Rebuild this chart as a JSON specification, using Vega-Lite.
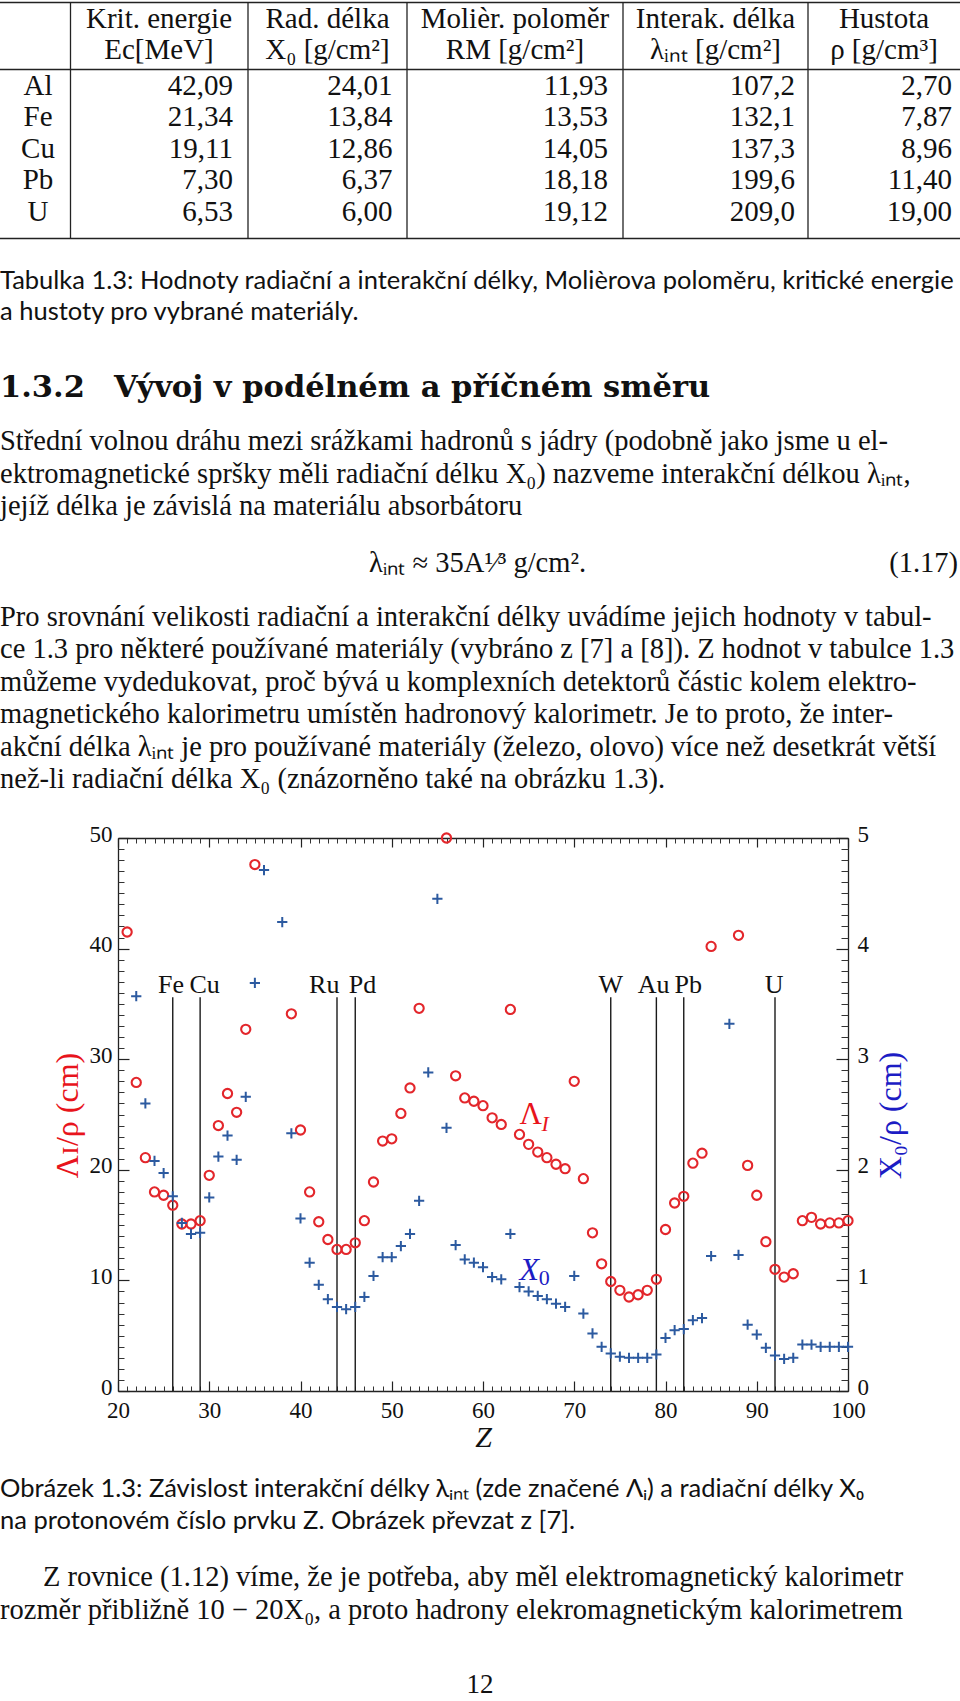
{
  "$schema": "https://vega.github.io/schema/vega-lite/v6.json",
  "width": 960,
  "height": 1701,
  "padding": 0,
  "autosize": {"type": "none"},
  "background": "white",
  "config": {"view": {"stroke": null}, "axis": {"grid": false, "labelFont": "Liberation Serif", "titleFont": "Liberation Serif"}},
  "resolve": {"scale": {"x": "independent", "y": "independent"}},
  "layer": [
    {
      "data": {"values": [{"h": 0}, {"h": 1}, {"h": 2}]},
      "mark": {"type": "rule", "color": "#222222", "strokeWidth": 1.3},
      "encoding": {
        "x": {"datum": 0, "type": "quantitative", "scale": {"domain": [0, 1], "range": [0, 960]}, "axis": null},
        "x2": {"datum": 1},
        "y": {"field": "h", "type": "quantitative", "scale": {"domain": [0, 1, 2], "range": [2.5, 69.5, 238.5]}, "axis": null}
      }
    },
    {
      "data": {"values": [{"b": 1}, {"b": 2}, {"b": 3}, {"b": 4}, {"b": 5}]},
      "mark": {"type": "rule", "color": "#222222", "strokeWidth": 1.3},
      "encoding": {
        "x": {"field": "b", "type": "quantitative", "scale": {"domain": [1, 2, 3, 4, 5], "range": [70.5, 248, 407, 623, 808]}, "axis": null},
        "y": {"datum": 0, "type": "quantitative", "scale": {"domain": [0, 1], "range": [2.5, 238.5]}, "axis": null},
        "y2": {"datum": 1}
      }
    },
    {
      "data": {"values": [
        {"r": 1, "c": 1, "t": "Krit. energie"}, {"r": 1, "c": 2, "t": "Rad. délka"}, {"r": 1, "c": 3, "t": "Molièr. poloměr"}, {"r": 1, "c": 4, "t": "Interak. délka"}, {"r": 1, "c": 5, "t": "Hustota"},
        {"r": 2, "c": 1, "t": "Ec[MeV]"}, {"r": 2, "c": 2, "t": "X₀ [g/cm²]"}, {"r": 2, "c": 3, "t": "RM [g/cm²]"}, {"r": 2, "c": 4, "t": "λᵢₙₜ [g/cm²]"}, {"r": 2, "c": 5, "t": "ρ [g/cm³]"}
      ]},
      "mark": {"type": "text", "font": "Liberation Serif", "fontSize": 29, "align": "center", "baseline": "middle", "color": "#111111"},
      "encoding": {
        "x": {"field": "c", "type": "quantitative", "scale": {"domain": [1, 2, 3, 4, 5], "range": [159, 327.5, 515, 715.5, 884]}, "axis": null},
        "y": {"field": "r", "type": "quantitative", "scale": {"domain": [1, 2], "range": [19, 49.5]}, "axis": null},
        "text": {"field": "t"}
      }
    },
    {
      "data": {"values": [{"r": 1, "t": "Al"}, {"r": 2, "t": "Fe"}, {"r": 3, "t": "Cu"}, {"r": 4, "t": "Pb"}, {"r": 5, "t": "U"}]},
      "mark": {"type": "text", "font": "Liberation Serif", "fontSize": 29, "align": "center", "baseline": "middle", "color": "#111111"},
      "encoding": {
        "x": {"datum": 0, "type": "quantitative", "scale": {"domain": [0, 1], "range": [38, 39]}, "axis": null},
        "y": {"field": "r", "type": "quantitative", "scale": {"domain": [1, 5], "range": [85.5, 212]}, "axis": null},
        "text": {"field": "t"}
      }
    },
    {
      "data": {"values": [
        {"r": 1, "c": 1, "t": "42,09"}, {"r": 1, "c": 2, "t": "24,01"}, {"r": 1, "c": 3, "t": "11,93"}, {"r": 1, "c": 4, "t": "107,2"}, {"r": 1, "c": 5, "t": "2,70"},
        {"r": 2, "c": 1, "t": "21,34"}, {"r": 2, "c": 2, "t": "13,84"}, {"r": 2, "c": 3, "t": "13,53"}, {"r": 2, "c": 4, "t": "132,1"}, {"r": 2, "c": 5, "t": "7,87"},
        {"r": 3, "c": 1, "t": "19,11"}, {"r": 3, "c": 2, "t": "12,86"}, {"r": 3, "c": 3, "t": "14,05"}, {"r": 3, "c": 4, "t": "137,3"}, {"r": 3, "c": 5, "t": "8,96"},
        {"r": 4, "c": 1, "t": "7,30"}, {"r": 4, "c": 2, "t": "6,37"}, {"r": 4, "c": 3, "t": "18,18"}, {"r": 4, "c": 4, "t": "199,6"}, {"r": 4, "c": 5, "t": "11,40"},
        {"r": 5, "c": 1, "t": "6,53"}, {"r": 5, "c": 2, "t": "6,00"}, {"r": 5, "c": 3, "t": "19,12"}, {"r": 5, "c": 4, "t": "209,0"}, {"r": 5, "c": 5, "t": "19,00"}
      ]},
      "mark": {"type": "text", "font": "Liberation Serif", "fontSize": 29, "align": "right", "baseline": "middle", "color": "#111111"},
      "encoding": {
        "x": {"field": "c", "type": "quantitative", "scale": {"domain": [1, 2, 3, 4, 5], "range": [233, 392.5, 608, 795, 952]}, "axis": null},
        "y": {"field": "r", "type": "quantitative", "scale": {"domain": [1, 5], "range": [85.5, 212]}, "axis": null},
        "text": {"field": "t"}
      }
    },
    {
      "data": {"values": [
        {"ln": 1, "t": "Tabulka 1.3: Hodnoty radiační a interakční délky, Molièrova poloměru, kritické energie"},
        {"ln": 2, "t": "a hustoty pro vybrané materiály."},
        {"ln": 3, "t": "Obrázek 1.3: Závislost interakční délky λᵢₙₜ (zde značené Λᵢ) a radiační délky X₀"},
        {"ln": 4, "t": "na protonovém číslo prvku Z. Obrázek převzat z [7]."}
      ]},
      "mark": {"type": "text", "font": "Lato", "fontSize": 25.5, "align": "left", "baseline": "middle", "color": "#111111"},
      "encoding": {
        "x": {"datum": 0, "type": "quantitative", "scale": {"domain": [0, 1], "range": [0, 960]}, "axis": null},
        "y": {"field": "ln", "type": "quantitative", "scale": {"domain": [1, 2, 3, 4], "range": [280.5, 312, 1489, 1521]}, "axis": null},
        "text": {"field": "t"}
      }
    },
    {
      "data": {"values": [{"p": 0, "t": "1.3.2"}, {"p": 1, "t": "Vývoj v podélném a příčném směru"}]},
      "mark": {"type": "text", "font": "DejaVu Serif", "fontWeight": "bold", "fontSize": 30.5, "align": "left", "baseline": "middle", "color": "#111111"},
      "encoding": {
        "x": {"field": "p", "type": "quantitative", "scale": {"domain": [0, 1], "range": [0, 114]}, "axis": null},
        "y": {"datum": 0, "type": "quantitative", "scale": {"domain": [0, 1], "range": [388, 389]}, "axis": null},
        "text": {"field": "t"}
      }
    },
    {
      "data": {"values": [
        {"ln": 1, "ind": 0, "t": "Střední volnou dráhu mezi srážkami hadronů s jádry (podobně jako jsme u el-"},
        {"ln": 2, "ind": 0, "t": "ektromagnetické spršky měli radiační délku X₀) nazveme interakční délkou λᵢₙₜ,"},
        {"ln": 3, "ind": 0, "t": "jejíž délka je závislá na materiálu absorbátoru"},
        {"ln": 4, "ind": 0, "t": "Pro srovnání velikosti radiační a interakční délky uvádíme jejich hodnoty v tabul-"},
        {"ln": 5, "ind": 0, "t": "ce 1.3 pro některé používané materiály (vybráno z [7] a [8]). Z hodnot v tabulce 1.3"},
        {"ln": 6, "ind": 0, "t": "můžeme vydedukovat, proč bývá u komplexních detektorů částic kolem elektro-"},
        {"ln": 7, "ind": 0, "t": "magnetického kalorimetru umístěn hadronový kalorimetr. Je to proto, že inter-"},
        {"ln": 8, "ind": 0, "t": "akční délka λᵢₙₜ je pro používané materiály (železo, olovo) více než desetkrát větší"},
        {"ln": 9, "ind": 0, "t": "než-li radiační délka X₀ (znázorněno také na obrázku 1.3)."},
        {"ln": 10, "ind": 1, "t": "Z rovnice (1.12) víme, že je potřeba, aby měl elektromagnetický kalorimetr"},
        {"ln": 11, "ind": 0, "t": "rozměr přibližně 10 − 20X₀, a proto hadrony elekromagnetickým kalorimetrem"}
      ]},
      "mark": {"type": "text", "font": "Liberation Serif", "fontSize": 28.5, "align": "left", "baseline": "middle", "color": "#111111"},
      "encoding": {
        "x": {"field": "ind", "type": "quantitative", "scale": {"domain": [0, 1], "range": [0, 43]}, "axis": null},
        "y": {"field": "ln", "type": "quantitative", "scale": {"domain": [1, 3, 4, 9, 10, 11], "range": [441, 506, 617, 779, 1577, 1610]}, "axis": null},
        "text": {"field": "t"}
      }
    },
    {
      "data": {"values": [{"p": 0, "t": "λᵢₙₜ ≈ 35A¹⁄³ g/cm²."}]},
      "mark": {"type": "text", "font": "Liberation Serif", "fontSize": 28.5, "align": "left", "baseline": "middle", "color": "#111111"},
      "encoding": {
        "x": {"field": "p", "type": "quantitative", "scale": {"domain": [0, 1], "range": [369, 370]}, "axis": null},
        "y": {"datum": 0, "type": "quantitative", "scale": {"domain": [0, 1], "range": [563, 564]}, "axis": null},
        "text": {"field": "t"}
      }
    },
    {
      "data": {"values": [{"p": 1, "t": "(1.17)"}]},
      "mark": {"type": "text", "font": "Liberation Serif", "fontSize": 28.5, "align": "right", "baseline": "middle", "color": "#111111"},
      "encoding": {
        "x": {"field": "p", "type": "quantitative", "scale": {"domain": [0, 1], "range": [0, 958]}, "axis": null},
        "y": {"datum": 0, "type": "quantitative", "scale": {"domain": [0, 1], "range": [563, 564]}, "axis": null},
        "text": {"field": "t"}
      }
    },
    {
      "data": {"values": [{"p": 0.5, "t": "12"}]},
      "mark": {"type": "text", "font": "Liberation Serif", "fontSize": 27, "align": "center", "baseline": "middle", "color": "#111111"},
      "encoding": {
        "x": {"field": "p", "type": "quantitative", "scale": {"domain": [0, 1], "range": [0, 960]}, "axis": null},
        "y": {"datum": 0, "type": "quantitative", "scale": {"domain": [0, 1], "range": [1685, 1686]}, "axis": null},
        "text": {"field": "t"}
      }
    },
    {
      "layer": [
        {
          "data": {"values": [{"el": "Fe", "Z": 26}, {"el": "Cu", "Z": 29}, {"el": "Ru", "Z": 44}, {"el": "Pd", "Z": 46}, {"el": "W", "Z": 74}, {"el": "Au", "Z": 79}, {"el": "Pb", "Z": 82}, {"el": "U", "Z": 92}]},
          "mark": {"type": "rule", "color": "#1a1a1a", "strokeWidth": 1.4},
          "encoding": {
            "x": {"field": "Z", "type": "quantitative", "scale": {"domain": [20, 100], "range": [118, 848], "nice": false, "zero": false}, "axis": null},
            "y": {"datum": 0, "type": "quantitative", "scale": {"domain": [0, 50], "range": [1391, 838], "nice": false, "zero": false}, "axis": null},
            "y2": {"datum": 35.6}
          }
        },
        {
          "data": {"values": [{"el": "Fe", "lz": 25.8}, {"el": "Cu", "lz": 29.5}, {"el": "Ru", "lz": 42.6}, {"el": "Pd", "lz": 46.8}, {"el": "W", "lz": 74.0}, {"el": "Au", "lz": 78.7}, {"el": "Pb", "lz": 82.5}, {"el": "U", "lz": 91.9}]},
          "mark": {"type": "text", "font": "Liberation Serif", "fontSize": 26, "align": "center", "baseline": "alphabetic", "color": "#111111"},
          "encoding": {
            "x": {"field": "lz", "type": "quantitative", "scale": {"domain": [20, 100], "range": [118, 848], "nice": false, "zero": false}, "axis": null},
            "y": {"datum": 36.0, "type": "quantitative", "scale": {"domain": [0, 50], "range": [1391, 838], "nice": false, "zero": false}, "axis": null},
            "text": {"field": "el"}
          }
        },
        {
          "data": {"values": [
            {"Z": 21, "L": 41.5}, {"Z": 22, "L": 27.9}, {"Z": 23, "L": 21.1}, {"Z": 24, "L": 18.0}, {"Z": 25, "L": 17.7}, {"Z": 26, "L": 16.8}, {"Z": 27, "L": 15.1}, {"Z": 28, "L": 15.1}, {"Z": 29, "L": 15.4}, {"Z": 30, "L": 19.5},
            {"Z": 31, "L": 24.0}, {"Z": 32, "L": 26.9}, {"Z": 33, "L": 25.2}, {"Z": 34, "L": 32.7}, {"Z": 35, "L": 47.6}, {"Z": 39, "L": 34.1}, {"Z": 40, "L": 23.6},
            {"Z": 41, "L": 18.0}, {"Z": 42, "L": 15.3}, {"Z": 43, "L": 13.7}, {"Z": 44, "L": 12.8}, {"Z": 45, "L": 12.8}, {"Z": 46, "L": 13.4}, {"Z": 47, "L": 15.4}, {"Z": 48, "L": 18.9}, {"Z": 49, "L": 22.6}, {"Z": 50, "L": 22.8},
            {"Z": 51, "L": 25.1}, {"Z": 52, "L": 27.4}, {"Z": 53, "L": 34.6}, {"Z": 56, "L": 50.0}, {"Z": 57, "L": 28.5}, {"Z": 58, "L": 26.5}, {"Z": 59, "L": 26.2}, {"Z": 60, "L": 25.8},
            {"Z": 61, "L": 24.7}, {"Z": 62, "L": 24.1}, {"Z": 63, "L": 34.5}, {"Z": 64, "L": 23.2}, {"Z": 65, "L": 22.3}, {"Z": 66, "L": 21.6}, {"Z": 67, "L": 21.1}, {"Z": 68, "L": 20.5}, {"Z": 69, "L": 20.1}, {"Z": 70, "L": 28.0},
            {"Z": 71, "L": 19.2}, {"Z": 72, "L": 14.3}, {"Z": 73, "L": 11.5}, {"Z": 74, "L": 9.9}, {"Z": 75, "L": 9.1}, {"Z": 76, "L": 8.5}, {"Z": 77, "L": 8.7}, {"Z": 78, "L": 9.1}, {"Z": 79, "L": 10.1}, {"Z": 80, "L": 14.6},
            {"Z": 81, "L": 17.0}, {"Z": 82, "L": 17.6}, {"Z": 83, "L": 20.6}, {"Z": 84, "L": 21.5}, {"Z": 85, "L": 40.2}, {"Z": 88, "L": 41.2}, {"Z": 89, "L": 20.4}, {"Z": 90, "L": 17.7},
            {"Z": 91, "L": 13.5}, {"Z": 92, "L": 11.0}, {"Z": 93, "L": 10.3}, {"Z": 94, "L": 10.6}, {"Z": 95, "L": 15.4}, {"Z": 96, "L": 15.7}, {"Z": 97, "L": 15.1}, {"Z": 98, "L": 15.2}, {"Z": 99, "L": 15.2}, {"Z": 100, "L": 15.4}
          ]},
          "mark": {"type": "point", "shape": "circle", "filled": false, "size": 85, "strokeWidth": 2.1, "color": "#e3262b", "opacity": 1},
          "encoding": {
            "x": {"field": "Z", "type": "quantitative", "scale": {"domain": [20, 100], "range": [118, 848], "nice": false, "zero": false}, "axis": null},
            "y": {"field": "L", "type": "quantitative", "scale": {"domain": [0, 50], "range": [1391, 838], "nice": false, "zero": false}, "axis": null}
          }
        },
        {
          "data": {"values": [{"t": "Λ", "Z": 64.0, "v": 24.1}]},
          "mark": {"type": "text", "font": "Liberation Serif", "fontSize": 31, "align": "left", "baseline": "alphabetic", "color": "#e8141c"},
          "encoding": {
            "x": {"field": "Z", "type": "quantitative", "scale": {"domain": [20, 100], "range": [118, 848], "nice": false, "zero": false}, "axis": null},
            "y": {"field": "v", "type": "quantitative", "scale": {"domain": [0, 50], "range": [1391, 838], "nice": false, "zero": false}, "axis": null},
            "text": {"field": "t"}
          }
        },
        {
          "data": {"values": [{"t": "I", "Z": 66.4, "v": 23.5}]},
          "mark": {"type": "text", "font": "Liberation Serif", "fontSize": 22, "fontStyle": "italic", "align": "left", "baseline": "alphabetic", "color": "#e8141c"},
          "encoding": {
            "x": {"field": "Z", "type": "quantitative", "scale": {"domain": [20, 100], "range": [118, 848], "nice": false, "zero": false}, "axis": null},
            "y": {"field": "v", "type": "quantitative", "scale": {"domain": [0, 50], "range": [1391, 838], "nice": false, "zero": false}, "axis": null},
            "text": {"field": "t"}
          }
        },
        {
          "data": {"values": [{"t": "X", "Z": 64.0, "v": 10.05}]},
          "mark": {"type": "text", "font": "Liberation Serif", "fontSize": 32, "fontStyle": "italic", "align": "left", "baseline": "alphabetic", "color": "#1c1cc4"},
          "encoding": {
            "x": {"field": "Z", "type": "quantitative", "scale": {"domain": [20, 100], "range": [118, 848], "nice": false, "zero": false}, "axis": null},
            "y": {"field": "v", "type": "quantitative", "scale": {"domain": [0, 50], "range": [1391, 838], "nice": false, "zero": false}, "axis": null},
            "text": {"field": "t"}
          }
        },
        {
          "data": {"values": [{"t": "0", "Z": 66.1, "v": 9.6}]},
          "mark": {"type": "text", "font": "Liberation Serif", "fontSize": 22, "align": "left", "baseline": "alphabetic", "color": "#1c1cc4"},
          "encoding": {
            "x": {"field": "Z", "type": "quantitative", "scale": {"domain": [20, 100], "range": [118, 848], "nice": false, "zero": false}, "axis": null},
            "y": {"field": "v", "type": "quantitative", "scale": {"domain": [0, 50], "range": [1391, 838], "nice": false, "zero": false}, "axis": null},
            "text": {"field": "t"}
          }
        }
      ]
    },
    {
      "data": {"values": [
        {"Z": 22, "X0": 3.57}, {"Z": 23, "X0": 2.60}, {"Z": 24, "X0": 2.08}, {"Z": 25, "X0": 1.97}, {"Z": 26, "X0": 1.76}, {"Z": 27, "X0": 1.52}, {"Z": 28, "X0": 1.42}, {"Z": 29, "X0": 1.43}, {"Z": 30, "X0": 1.75},
        {"Z": 31, "X0": 2.12}, {"Z": 32, "X0": 2.31}, {"Z": 33, "X0": 2.09}, {"Z": 34, "X0": 2.66}, {"Z": 35, "X0": 3.69}, {"Z": 36, "X0": 4.71}, {"Z": 38, "X0": 4.24}, {"Z": 39, "X0": 2.33}, {"Z": 40, "X0": 1.56},
        {"Z": 41, "X0": 1.16}, {"Z": 42, "X0": 0.96}, {"Z": 43, "X0": 0.83}, {"Z": 44, "X0": 0.76}, {"Z": 45, "X0": 0.74}, {"Z": 46, "X0": 0.76}, {"Z": 47, "X0": 0.85}, {"Z": 48, "X0": 1.04}, {"Z": 49, "X0": 1.21}, {"Z": 50, "X0": 1.21},
        {"Z": 51, "X0": 1.31}, {"Z": 52, "X0": 1.42}, {"Z": 53, "X0": 1.72}, {"Z": 54, "X0": 2.88}, {"Z": 55, "X0": 4.45}, {"Z": 56, "X0": 2.38}, {"Z": 57, "X0": 1.32}, {"Z": 58, "X0": 1.19}, {"Z": 59, "X0": 1.16}, {"Z": 60, "X0": 1.12},
        {"Z": 61, "X0": 1.03}, {"Z": 62, "X0": 1.01}, {"Z": 63, "X0": 1.42}, {"Z": 64, "X0": 0.94}, {"Z": 65, "X0": 0.90}, {"Z": 66, "X0": 0.86}, {"Z": 67, "X0": 0.83}, {"Z": 68, "X0": 0.79}, {"Z": 69, "X0": 0.76}, {"Z": 70, "X0": 1.04},
        {"Z": 71, "X0": 0.70}, {"Z": 72, "X0": 0.52}, {"Z": 73, "X0": 0.40}, {"Z": 74, "X0": 0.34}, {"Z": 75, "X0": 0.31}, {"Z": 76, "X0": 0.30}, {"Z": 77, "X0": 0.30}, {"Z": 78, "X0": 0.30}, {"Z": 79, "X0": 0.33}, {"Z": 80, "X0": 0.48},
        {"Z": 81, "X0": 0.55}, {"Z": 82, "X0": 0.56}, {"Z": 83, "X0": 0.64}, {"Z": 84, "X0": 0.66}, {"Z": 85, "X0": 1.22}, {"Z": 87, "X0": 3.32}, {"Z": 88, "X0": 1.23}, {"Z": 89, "X0": 0.60}, {"Z": 90, "X0": 0.51},
        {"Z": 91, "X0": 0.39}, {"Z": 92, "X0": 0.32}, {"Z": 93, "X0": 0.29}, {"Z": 94, "X0": 0.30}, {"Z": 95, "X0": 0.42}, {"Z": 96, "X0": 0.42}, {"Z": 97, "X0": 0.40}, {"Z": 98, "X0": 0.40}, {"Z": 99, "X0": 0.40}, {"Z": 100, "X0": 0.40}
      ]},
      "mark": {"type": "point", "shape": "M-1,0H1M0,-1V1", "filled": false, "size": 105, "strokeWidth": 2, "color": "#2c5aa0", "opacity": 1},
      "encoding": {
        "x": {"field": "Z", "type": "quantitative", "scale": {"domain": [20, 100], "range": [118, 848], "nice": false, "zero": false},
          "axis": {"orient": "top", "offset": -838, "values": [20, 30, 40, 50, 60, 70, 80, 90, 100], "tickSize": -9, "tickColor": "#222222", "tickWidth": 1.2, "domainColor": "#222222", "domainWidth": 1.3, "labels": false, "title": null}},
        "y": {"field": "X0", "type": "quantitative", "scale": {"domain": [0, 5], "range": [1391, 838], "nice": false, "zero": false},
          "axis": {"orient": "right", "offset": -112, "values": [0, 1, 2, 3, 4, 5], "tickSize": -12, "tickColor": "#222222", "tickWidth": 1.2, "domainColor": "#222222", "domainWidth": 1.3, "labelPadding": 21, "labelOffset": -4, "labelFontSize": 23, "labelColor": "#111111", "labelFlush": false, "labelOverlap": false, "title": "X₀/ρ (cm)", "titleFontSize": 32, "titleFontWeight": "normal", "titleColor": "#1c1cc4", "titleX": 42, "titleY": 1115, "titleAngle": 270, "titleBaseline": "middle", "titleAlign": "center"}}
      }
    },
    {
      "data": {"values": [{"a": 20}]},
      "mark": {"type": "point", "opacity": 0},
      "encoding": {
        "x": {"field": "a", "type": "quantitative", "scale": {"domain": [20, 100], "range": [118, 848], "nice": false, "zero": false},
          "axis": {"orient": "bottom", "offset": -310, "values": [20, 30, 40, 50, 60, 70, 80, 90, 100], "tickSize": -10, "tickColor": "#222222", "tickWidth": 1.2, "domainColor": "#222222", "domainWidth": 1.3, "labelPadding": 18, "labelFontSize": 23, "labelColor": "#111111", "labelFlush": false, "labelOverlap": false, "title": "Z", "titleFontSize": 30, "titleFontStyle": "italic", "titleFontWeight": "normal", "titleColor": "#111111", "titleX": 483, "titleY": 46, "titleBaseline": "middle", "titleAlign": "center"}},
        "y": {"datum": 0, "type": "quantitative", "scale": {"domain": [0, 50], "range": [1391, 838], "nice": false, "zero": false},
          "axis": {"orient": "left", "offset": -118, "values": [0, 10, 20, 30, 40, 50], "tickSize": -11, "tickColor": "#222222", "tickWidth": 1.2, "domainColor": "#222222", "domainWidth": 1.3, "labelPadding": 17, "labelOffset": -4, "labelFontSize": 23, "labelColor": "#111111", "labelFlush": false, "labelOverlap": false, "title": "Λɪ/ρ (cm)", "titleFontSize": 32, "titleFontWeight": "normal", "titleColor": "#e8141c", "titleX": -51, "titleY": 1115, "titleAngle": 270, "titleBaseline": "middle", "titleAlign": "center"}}
      }
    },
    {
      "data": {"values": [{"a": 20}]},
      "mark": {"type": "point", "opacity": 0},
      "encoding": {
        "x": {"field": "a", "type": "quantitative", "scale": {"domain": [20, 100], "range": [118, 848], "nice": false, "zero": false},
          "axis": {"orient": "bottom", "offset": -310, "values": [21,22,23,24,25,26,27,28,29,31,32,33,34,35,36,37,38,39,41,42,43,44,45,46,47,48,49,51,52,53,54,55,56,57,58,59,61,62,63,64,65,66,67,68,69,71,72,73,74,75,76,77,78,79,81,82,83,84,85,86,87,88,89,91,92,93,94,95,96,97,98,99], "tickSize": -5, "tickColor": "#333333", "tickWidth": 1, "domain": false, "labels": false, "title": null}},
        "y": {"datum": 0, "type": "quantitative", "scale": {"domain": [0, 50], "range": [1391, 838], "nice": false, "zero": false},
          "axis": {"orient": "left", "offset": -118, "values": [1,2,3,4,5,6,7,8,9,11,12,13,14,15,16,17,18,19,21,22,23,24,25,26,27,28,29,31,32,33,34,35,36,37,38,39,41,42,43,44,45,46,47,48,49], "tickSize": -6, "tickColor": "#333333", "tickWidth": 1, "domain": false, "labels": false, "title": null}}
      }
    },
    {
      "data": {"values": [{"a": 20}]},
      "mark": {"type": "point", "opacity": 0},
      "encoding": {
        "x": {"field": "a", "type": "quantitative", "scale": {"domain": [20, 100], "range": [118, 848], "nice": false, "zero": false},
          "axis": {"orient": "top", "offset": -838, "values": [21,22,23,24,25,26,27,28,29,31,32,33,34,35,36,37,38,39,41,42,43,44,45,46,47,48,49,51,52,53,54,55,56,57,58,59,61,62,63,64,65,66,67,68,69,71,72,73,74,75,76,77,78,79,81,82,83,84,85,86,87,88,89,91,92,93,94,95,96,97,98,99], "tickSize": -5, "tickColor": "#333333", "tickWidth": 1, "domain": false, "labels": false, "title": null}},
        "y": {"datum": 0, "type": "quantitative", "scale": {"domain": [0, 50], "range": [1391, 838], "nice": false, "zero": false},
          "axis": {"orient": "right", "offset": -112, "values": [1,2,3,4,5,6,7,8,9,11,12,13,14,15,16,17,18,19,21,22,23,24,25,26,27,28,29,31,32,33,34,35,36,37,38,39,41,42,43,44,45,46,47,48,49], "tickSize": -7, "tickColor": "#333333", "tickWidth": 1, "domain": false, "labels": false, "title": null}}
      }
    }
  ]
}
